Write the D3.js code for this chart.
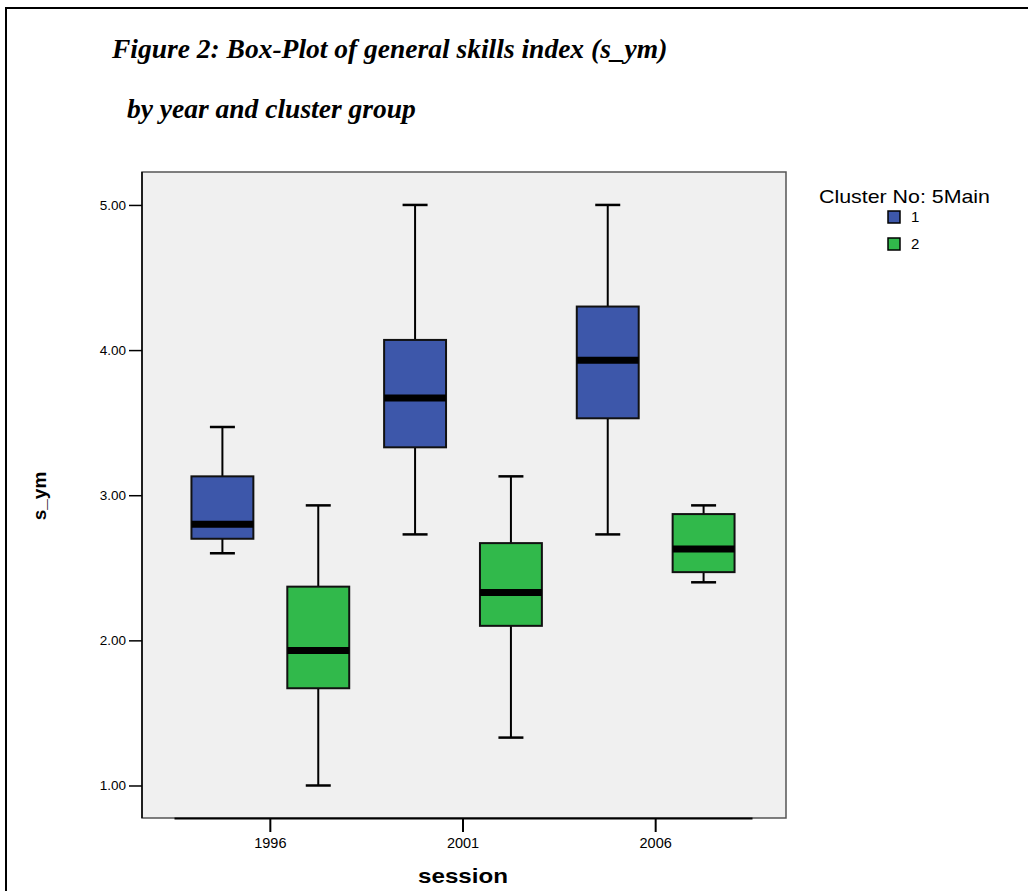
<!DOCTYPE html>
<html>
<head>
<meta charset="utf-8">
<script src="https://cdn.jsdelivr.net/npm/d3@7"></script>
<style>
  html, body { margin: 0; padding: 0; background: #ffffff; }
  svg { display: block; }
</style>
</head>
<body>
<svg id="chart" width="1028" height="891"></svg>
<script>
// ---- data ----
const sessions = ["1996", "2001", "2006"];
const clusters = ["1", "2"];
const clusterColors = ["#3D57AA", "#31B94B"];
// [min, q1, median, q3, max] per session
const cluster1Stats = [
  [2.60, 2.70, 2.80, 3.13, 3.47],
  [2.73, 3.33, 3.67, 4.07, 5.00],
  [2.73, 3.53, 3.93, 4.30, 5.00]
];
const cluster2Stats = [
  [1.00, 1.67, 1.93, 2.37, 2.93],
  [1.33, 2.10, 2.33, 2.67, 3.13],
  [2.40, 2.47, 2.63, 2.87, 2.93]
];
const yTicks = [1, 2, 3, 4, 5];
const titleLines = ["Figure 2: Box-Plot of general skills index (s_ym)", "by year and cluster group"];
const yTitle = "s_ym";
const xTitle = "session";
const legendTitle = "Cluster No: 5Main";

// ---- layout ----
const svg = d3.select("#chart");
const plot = { left: 142, right: 786, top: 172, bottom: 818 };

// outer frame
svg.append("rect").attr("x", 6).attr("y", 8).attr("width", 1040).attr("height", 900)
  .attr("fill", "none").attr("stroke", "#000").attr("stroke-width", 2);

// title
svg.append("text").attr("x", 112).attr("y", 58)
  .attr("font-family", "Liberation Serif, Times New Roman, serif")
  .attr("font-weight", "bold").attr("font-style", "italic").attr("font-size", 27.5)
  .text(titleLines[0]);
svg.append("text").attr("x", 127).attr("y", 118)
  .attr("font-family", "Liberation Serif, Times New Roman, serif")
  .attr("font-weight", "bold").attr("font-style", "italic").attr("font-size", 27.5)
  .text(titleLines[1]);

// plot background
svg.append("rect").attr("x", plot.left).attr("y", plot.top)
  .attr("width", plot.right - plot.left).attr("height", plot.bottom - plot.top)
  .attr("fill", "#F0F0F0").attr("stroke", "#555").attr("stroke-width", 1.5);

// scales
const y = d3.scaleLinear().domain([0.776, 5.227]).range([plot.bottom, plot.top]);
const x0 = d3.scaleBand().domain(sessions).range([174, 752]).padding(0);
const x1 = d3.scaleBand().domain(clusters).range([0, x0.bandwidth()])
  .paddingInner(0.354).paddingOuter(0.182);

// left axis line (dark)
svg.append("line").attr("x1", plot.left).attr("x2", plot.left)
  .attr("y1", plot.top).attr("y2", plot.bottom).attr("stroke", "#000").attr("stroke-width", 1.5);

// y axis
const yAxis = svg.append("g").attr("transform", `translate(${plot.left},0)`)
  .call(d3.axisLeft(y).tickValues(yTicks).tickFormat(d3.format(".2f")).tickSize(13).tickPadding(3));
yAxis.select(".domain").remove();
yAxis.selectAll(".tick line").attr("stroke", "#000").attr("stroke-width", 1.5);
yAxis.selectAll(".tick text").attr("font-family", "Liberation Sans, Arial, sans-serif")
  .attr("font-size", 13.5).attr("fill", "#000");

// x axis
const xAxis = svg.append("g").attr("transform", `translate(0,${plot.bottom})`)
  .call(d3.axisBottom(x0).tickSize(14).tickSizeOuter(0).tickPadding(6));
xAxis.select(".domain").attr("stroke", "#000").attr("stroke-width", 2);
xAxis.selectAll(".tick line").attr("stroke", "#000").attr("stroke-width", 2);
xAxis.selectAll(".tick text").attr("font-family", "Liberation Sans, Arial, sans-serif")
  .attr("font-size", 14.5).attr("fill", "#000");

// axis titles
svg.append("text").attr("transform", "translate(46,496) rotate(-90)")
  .attr("text-anchor", "middle")
  .attr("font-family", "Liberation Sans, Arial, sans-serif")
  .attr("font-weight", "bold").attr("font-size", 19).text(yTitle);
svg.append("text").attr("x", x0("2001") + x0.bandwidth() / 2).attr("y", 883)
  .attr("text-anchor", "middle")
  .attr("font-family", "Liberation Sans, Arial, sans-serif")
  .attr("font-weight", "bold").attr("font-size", 21)
  .attr("textLength", 90).attr("lengthAdjust", "spacingAndGlyphs").text(xTitle);

// boxes
const seriesStats = [cluster1Stats, cluster2Stats];
const capW = 25;
seriesStats.forEach((stats, ci) => {
  const g = svg.append("g");
  stats.forEach((s, si) => {
    const [mn, q1, md, q3, mx] = s;
    const bx = x0(sessions[si]) + x1(clusters[ci]);
    const bw = x1.bandwidth();
    const cx = bx + bw / 2;
    // whiskers
    g.append("line").attr("x1", cx).attr("x2", cx).attr("y1", y(mx)).attr("y2", y(q3))
      .attr("stroke", "#000").attr("stroke-width", 2);
    g.append("line").attr("x1", cx).attr("x2", cx).attr("y1", y(q1)).attr("y2", y(mn))
      .attr("stroke", "#000").attr("stroke-width", 2);
    g.append("line").attr("x1", cx - capW / 2).attr("x2", cx + capW / 2).attr("y1", y(mx)).attr("y2", y(mx))
      .attr("stroke", "#000").attr("stroke-width", 2.5);
    g.append("line").attr("x1", cx - capW / 2).attr("x2", cx + capW / 2).attr("y1", y(mn)).attr("y2", y(mn))
      .attr("stroke", "#000").attr("stroke-width", 2.5);
    // box
    g.append("rect").attr("x", bx).attr("y", y(q3)).attr("width", bw).attr("height", y(q1) - y(q3))
      .attr("fill", clusterColors[ci]).attr("stroke", "#111").attr("stroke-width", 2);
    // median
    g.append("line").attr("x1", bx).attr("x2", bx + bw).attr("y1", y(md)).attr("y2", y(md))
      .attr("stroke", "#000").attr("stroke-width", 7);
  });
});

// legend
svg.append("text").attr("x", 819).attr("y", 203)
  .attr("font-family", "Liberation Sans, Arial, sans-serif")
  .attr("font-size", 19).attr("textLength", 171).attr("lengthAdjust", "spacingAndGlyphs")
  .text(legendTitle);
clusters.forEach((c, i) => {
  const ly = 211 + i * 27;
  svg.append("rect").attr("x", 888).attr("y", ly).attr("width", 12).attr("height", 12)
    .attr("fill", clusterColors[i]).attr("stroke", "#000").attr("stroke-width", 1.5);
  svg.append("text").attr("x", 911).attr("y", ly + 11)
    .attr("font-family", "Liberation Sans, Arial, sans-serif")
    .attr("font-size", 15).text(c);
});
</script>
</body>
</html>
